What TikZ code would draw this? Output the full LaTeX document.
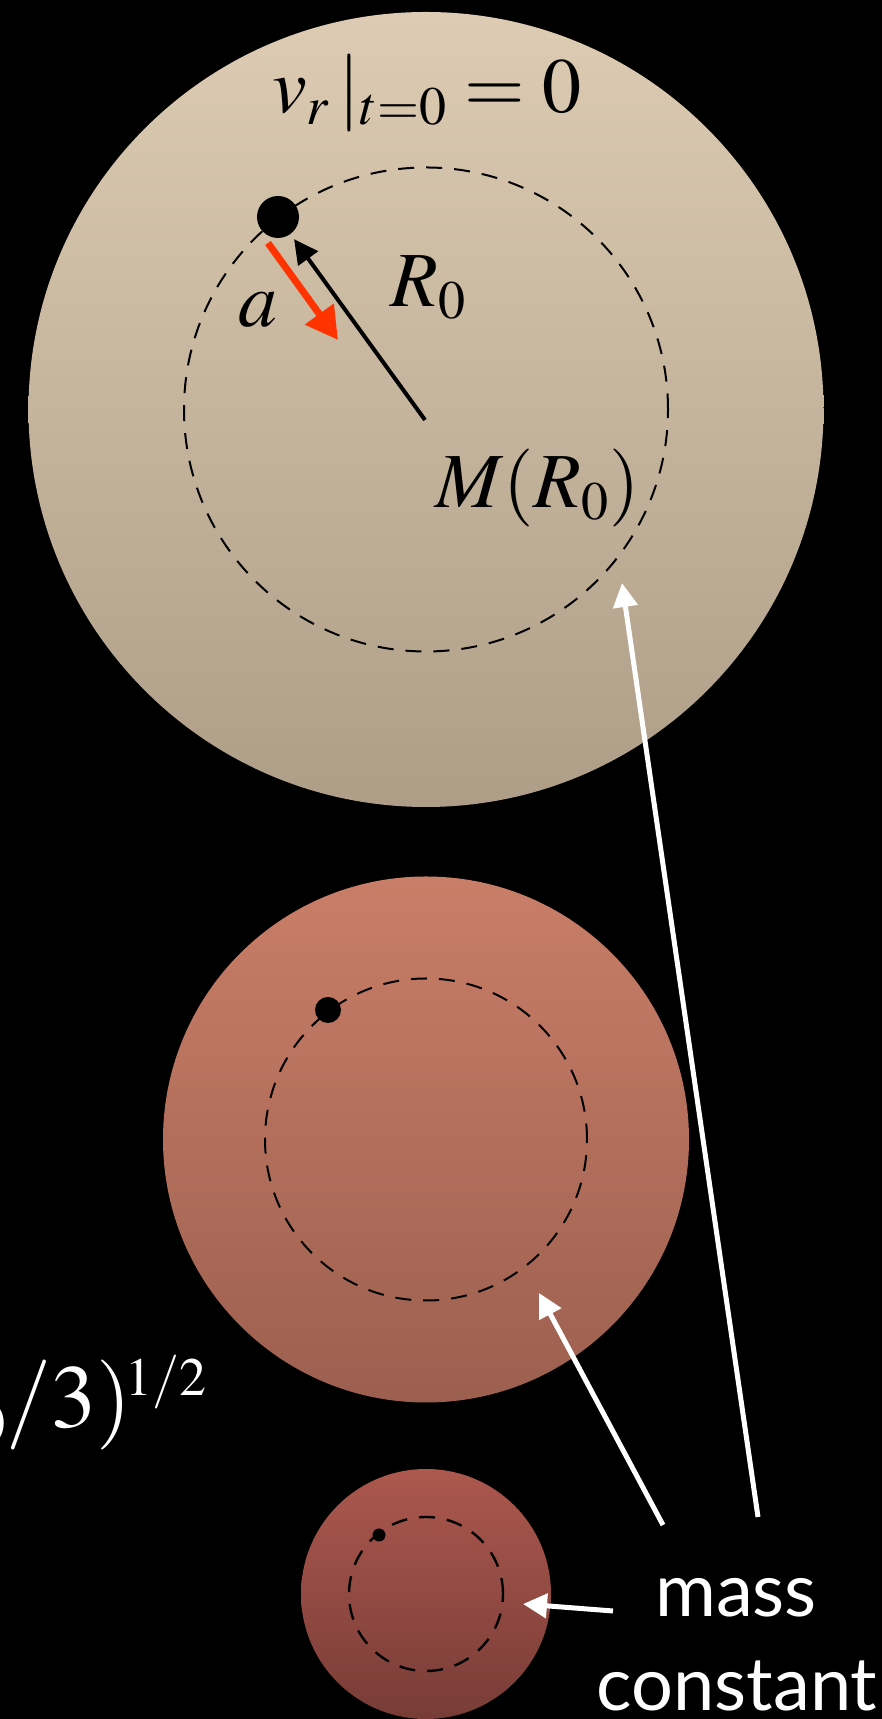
\documentclass[tikz,border=0pt]{standalone}
\usepackage[no-math]{fontspec}
\usepackage{mathptmx}
\newfontfamily\notefont{Lato}
\usetikzlibrary{arrows.meta}
\DeclareMathSizes{39}{39}{27}{20}
\DeclareMathSizes{45}{45}{27}{20}
\definecolor{bigtop}{RGB}{221,203,179}
\definecolor{bigbot}{RGB}{174,158,135}
\definecolor{midtop}{RGB}{201,126,104}
\definecolor{midbot}{RGB}{156,95,79}
\definecolor{smalltop}{RGB}{172,88,78}
\definecolor{smallbot}{RGB}{120,60,55}
\definecolor{accred}{RGB}{255,51,0}

\begin{document}
\begin{tikzpicture}[x=0.5pt, y=0.5pt,
  ball/.style={circle, inner sep=0pt, draw=none},
  orbit/.style={circle, inner sep=0pt, draw=black, line width=1pt, dash pattern=on 8pt off 6pt},
  particle/.style={circle, inner sep=0pt, fill=black},
  lbl/.style={inner sep=0pt, font=\fontsize{39}{40}\selectfont},
  note/.style={inner sep=0pt, text=white, font=\notefont\fontsize{37}{40}\selectfont},
  radial/.style={black, line width=2pt, -{Triangle[length=12pt,width=12pt]}, shorten >=3pt},
  accel/.style={accred, line width=3.5pt, -{Triangle[length=16pt,width=17pt]}},
  pointer/.style={white, line width=2.5pt, -{Triangle[length=12pt,width=12pt]}}]
\fill[black] (0,0) rectangle (882,1719);
\useasboundingbox (0,0) rectangle (882,1719);

% sphere at t=0
\node[ball, minimum size=397.5pt, top color=bigtop, bottom color=bigbot] (big) at (426,1309.5) {};
\node[orbit, minimum size=242pt] (bigorbit) at (426,1309.5) {};
\node[particle, minimum size=21pt] (pbig) at (278,1502) {};
\coordinate (cbig) at (425,1299);
\draw[radial] (cbig) -- (pbig);
\coordinate (a0) at (268,1476);
\coordinate (a1) at (338,1379);
\draw[accel] (a0) -- (a1);
\node[lbl, anchor=base] (vr) at (427,1606) {$v_r\,|_{t=0} = 0$};
\node[lbl, anchor=base] (acc) at (258,1392) {$a$};
\node[lbl, anchor=base west] (rad) at (390,1412) {$R_0$};
\node[lbl, anchor=base west] (mass0) at (435,1211) {$M(R_0)$};

% collapsing
\node[ball, minimum size=263pt, top color=midtop, bottom color=midbot] (mid) at (426,579.5) {};
\node[orbit, minimum size=161pt] (midorbit) at (426,579.5) {};
\node[particle, minimum size=13pt] (pmid) at (328,709) {};

\node[ball, minimum size=125pt, top color=smalltop, bottom color=smallbot] (small) at (426,125) {};
\node[orbit, minimum size=77pt, line width=1.2pt] (smallorbit) at (426,125) {};
\node[particle, minimum size=6.5pt] (psmall) at (379,184) {};

\node[lbl, anchor=base east, text=white, font=\fontsize{45}{47}\selectfont] (tff) at (208,291) {$\rho_0/3)^{\!1/2}$};

% mass constant
\node[note, anchor=base] (mass) at (736,102) {mass};
\node[note, anchor=base] (constant) at (737,9) {constant};
\coordinate (tipbig) at (622,1136);
\coordinate (tipmid) at (539,426);
\coordinate (tipsmall) at (523,115);
\coordinate (t1) at (758,202);
\coordinate (t2) at (663,194);
\coordinate (t3) at (613,108);
\draw[pointer] (t1) -- (tipbig);
\draw[pointer] (t2) -- (tipmid);
\draw[pointer] (t3) -- (tipsmall);
\end{tikzpicture}
\end{document}
